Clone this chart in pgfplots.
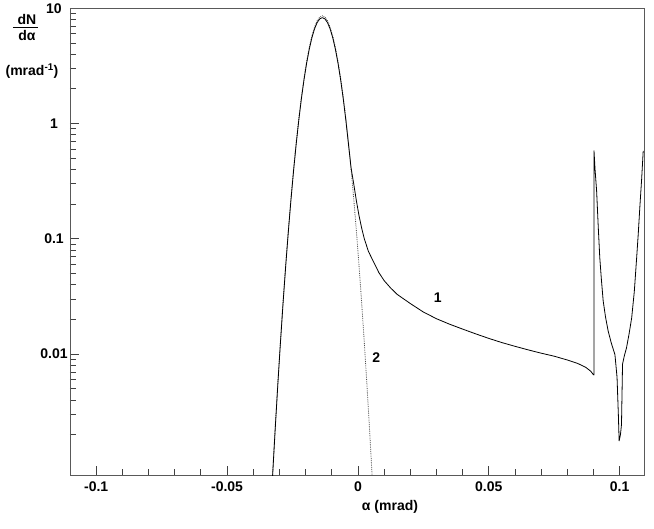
\documentclass[border=0pt]{standalone}
\usepackage{pgfplots}
\pgfplotsset{compat=1.18}
\usepackage{fontspec}
\setmainfont{Liberation Sans}
\usetikzlibrary{calc}

\begin{document}
\begin{tikzpicture}[font=\fontsize{14}{16}\selectfont\bfseries]
\begin{axis}[name=ax, scale only axis, width=574pt, height=467pt,
  ymode=log, xmin=-0.11, xmax=0.1093, ymin=0.00089, ymax=10,
  axis line style={black!65, line width=0.8pt},
  tick style={black!75, line width=0.8pt},
  major tick length=9pt, minor tick length=6pt,
  xtick pos=bottom, ytick pos=left, tick align=inside,
  xtick={-0.1,-0.05,0,0.05,0.1}, xticklabels={-0.1,-0.05,0,0.05,0.1},
  minor x tick num=4,
  ytick={0.01,0.1,1,10}, yticklabels={0.01,0.1,1,10},
  minor ytick={0.002,0.003,0.004,0.005,0.006,0.007,0.008,0.009,
    0.02,0.03,0.04,0.05,0.06,0.07,0.08,0.09,
    0.2,0.3,0.4,0.5,0.6,0.7,0.8,0.9,
    2,3,4,5,6,7,8,9},
  xticklabel style={anchor=center, yshift=-11pt},
  yticklabel style={anchor=center, xshift=-16pt},
  clip=true,
]
% curve 2: gaussian core only (dotted)
\addplot[black!70, densely dotted, line width=0.8pt] coordinates {
(-0.0336,0.000338) (-0.0326,0.000909) (-0.0316,0.002323) (-0.0306,0.005641)
(-0.0296,0.01302) (-0.0286,0.0286) (-0.0276,0.05967) (-0.0266,0.1183)
(-0.0256,0.2231) (-0.0246,0.3997) (-0.0236,0.6809) (-0.0226,1.1025)
(-0.0216,1.697) (-0.0206,2.482) (-0.0196,3.451) (-0.0186,4.562)
(-0.0176,5.731) (-0.0166,6.845) (-0.0156,7.771) (-0.0146,8.385)
(-0.0136,8.6) (-0.0126,8.385) (-0.0116,7.771) (-0.0106,6.845)
(-0.0096,5.731) (-0.0086,4.562) (-0.0076,3.451) (-0.0066,2.482)
(-0.0056,1.697) (-0.0046,1.1025) (-0.0036,0.6809) (-0.0026,0.3997)
(-0.0016,0.2231) (-0.0006,0.1183) (0.0004,0.05967) (0.0014,0.0286)
(0.0024,0.01302) (0.0034,0.005641) (0.0044,0.002323) (0.0054,0.000909)
(0.0064,0.000338)
};
% curve 1: full distribution (solid)
\addplot[black, line width=0.8pt, line join=round] coordinates {
(-0.0336,0.000326) (-0.0326,0.000877) (-0.0316,0.002242) (-0.0306,0.005444)
(-0.0296,0.01256) (-0.0286,0.0276) (-0.0276,0.05758) (-0.0266,0.1142)
(-0.0256,0.2153) (-0.0246,0.3857) (-0.0236,0.6571) (-0.0226,1.064)
(-0.0216,1.638) (-0.0206,2.395) (-0.0196,3.330) (-0.0186,4.402)
(-0.0176,5.530) (-0.0166,6.605) (-0.0156,7.499) (-0.0146,8.092)
(-0.0136,8.30) (-0.0126,8.092) (-0.0116,7.499) (-0.0106,6.605)
(-0.0096,5.530) (-0.0086,4.402) (-0.0076,3.330) (-0.0066,2.395)
(-0.0056,1.638) (-0.0046,1.064) (-0.0036,0.66) (-0.0026,0.41)
(-0.0016,0.30) (-0.0006,0.215) (0.0004,0.16) (0.0014,0.125)
(0.0024,0.101) (0.004,0.078) (0.006,0.063) (0.008,0.051)
(0.010,0.0435) (0.0125,0.0375) (0.015,0.0330) (0.020,0.0275)
(0.025,0.0232) (0.030,0.0203) (0.035,0.0182) (0.040,0.0165)
(0.045,0.0150) (0.050,0.0137) (0.055,0.0126) (0.060,0.0117)
(0.065,0.0109) (0.070,0.0102) (0.075,0.0096) (0.080,0.0089)
(0.084,0.0083) (0.087,0.0077) (0.089,0.0071) (0.0898,0.0067)
(0.0902,0.0066) (0.0902,0.58) (0.0906,0.40) (0.0912,0.26)
(0.0918,0.13) (0.0924,0.069) (0.0930,0.045) (0.0937,0.029)
(0.0946,0.021) (0.0956,0.0159) (0.0968,0.0125) (0.0982,0.0099)
(0.0990,0.0063) (0.0995,0.0030) (0.0998,0.00177) (0.1003,0.0020)
(0.1007,0.00245) (0.1011,0.0082) (0.1018,0.0097) (0.1026,0.0113)
(0.1036,0.015) (0.1046,0.0207) (0.1056,0.035) (0.1065,0.069)
(0.1071,0.11) (0.1077,0.187) (0.1084,0.33) (0.1090,0.58)
};
\node at (axis cs:0.0305,0.0312) {1};
\node at (axis cs:0.0070,0.00933) {2};
\end{axis}
% axis labels
\node at ($(ax.north west)+(-43pt,-11pt)$) {dN};
\draw[black, line width=0.9pt] ($(ax.north west)+(-57pt,-19pt)$) -- ($(ax.north west)+(-32pt,-19pt)$);
\node at ($(ax.north west)+(-43pt,-27pt)$) {dα};
\node at ($(ax.north west)+(-38pt,-63pt)$) {(mrad\textsuperscript{-1})};
\node at ($(ax.south west)+(320pt,-32pt)$) {α (mrad)};
\path ($(ax.south west)+(-70pt,-53pt)$) rectangle ($(ax.north east)+(10pt,4pt)$);
\end{tikzpicture}
\end{document}
